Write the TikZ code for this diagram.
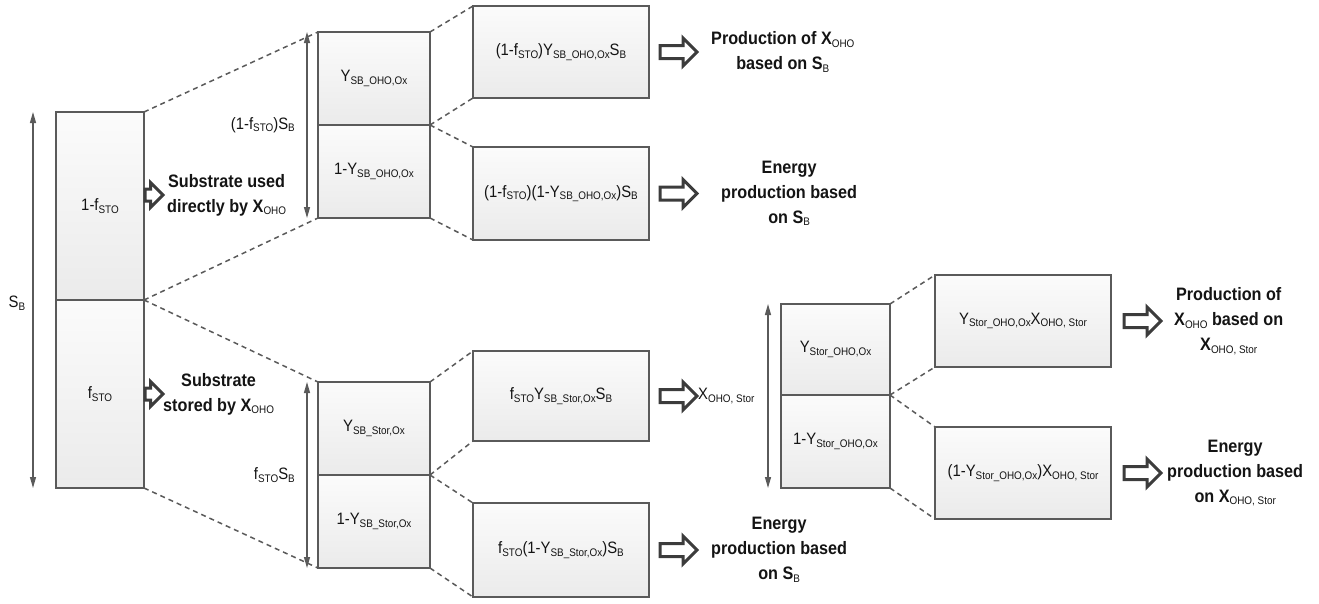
\documentclass[tikz,border=0pt]{standalone}
\usepackage{fontspec}
\setmainfont{Liberation Sans}[FakeStretch=0.9]
\usepackage{tikz}
\usetikzlibrary{positioning}
\usetikzlibrary{shapes.arrows}
\usetikzlibrary{arrows.meta}
\definecolor{boxline}{HTML}{5A5A5A}
\definecolor{arrline}{HTML}{3C3C3C}
\definecolor{textdark}{HTML}{141414}
\newcommand{\lsub}[1]{\raisebox{-2.5pt}{\fontsize{11}{11}\mdseries\selectfont #1}}

\begin{document}
\begin{tikzpicture}[x=1pt,y=-1pt,
  part/.style={draw=boxline, line width=1.5pt, top color=gray!3, bottom color=gray!16,
    minimum width=112pt, minimum height=93pt, inner sep=0pt, outer sep=0pt,
    anchor=north west, text=textdark, font=\fontsize{16.5}{19}\selectfont},
  result/.style={part, minimum width=176pt, minimum height=92pt},
  zoomline/.style={draw=boxline, line width=1.5pt, dash pattern=on 5pt off 4pt},
  extent/.style={draw=boxline, line width=1.2pt,
    {Triangle[length=11pt,width=6pt]}-{Triangle[length=11pt,width=6pt]}},
  hollow/.style={single arrow, draw=arrline, line width=3pt, fill=white,
    minimum height=37pt, inner xsep=0pt, inner ysep=5pt,
    single arrow head extend=7.5pt, outer sep=0pt},
  smallhollow/.style={hollow, minimum height=18pt, inner ysep=4.5pt,
    single arrow head extend=6.5pt},
  outtext/.style={align=center, text=textdark, inner sep=0pt,
    font=\bfseries\fontsize{18}{25}\selectfont},
  lbl/.style={text=textdark, inner sep=0pt, font=\fontsize{16.5}{19}\selectfont}]
  \useasboundingbox
    (0,0)
    rectangle
    (1319,603);

  \node[part, minimum width=88pt, minimum height=188pt] (srca) at (56,112) {1-f\lsub{STO}};
  \node[part, minimum width=88pt, minimum height=188pt, below=0pt of srca] (srcb) {f\lsub{STO}};

  \node[part] (dira) at (318,32) {Y\lsub{SB\_OHO,Ox}};
  \node[part, below=0pt of dira] (dirb) {1-Y\lsub{SB\_OHO,Ox}};
  \node[part] (stoa) at (318,382) {Y\lsub{SB\_Stor,Ox}};
  \node[part, below=0pt of stoa] (stob) {1-Y\lsub{SB\_Stor,Ox}};

  \node[result] (gdir) at (473,6) {(1-f\lsub{STO})Y\lsub{SB\_OHO,Ox}S\lsub{B}};
  \node[result, minimum height=93pt] (edir) at (473,147) {(1-f\lsub{STO})(1-Y\lsub{SB\_OHO,Ox})S\lsub{B}};
  \node[result, minimum height=90pt] (gsto) at (473,351) {f\lsub{STO}Y\lsub{SB\_Stor,Ox}S\lsub{B}};
  \node[result, minimum height=94pt] (esto) at (473,503) {f\lsub{STO}(1-Y\lsub{SB\_Stor,Ox})S\lsub{B}};

  \node[part, minimum width=109pt, minimum height=91pt] (stra) at (781,304) {Y\lsub{Stor\_OHO,Ox}};
  \node[part, minimum width=109pt, minimum height=93pt, below=0pt of stra] (strb) {1-Y\lsub{Stor\_OHO,Ox}};
  \node[result] (gstr) at (935,275) {Y\lsub{Stor\_OHO,Ox}X\lsub{OHO, Stor}};
  \node[result] (estr) at (935,427) {(1-Y\lsub{Stor\_OHO,Ox})X\lsub{OHO, Stor}};

  \draw[zoomline]
    (srca.north east)
    --
    (dira.north west);
  \draw[zoomline]
    (srca.south east)
    --
    (dirb.south west);
  \draw[zoomline]
    (srcb.north east)
    --
    (stoa.north west);
  \draw[zoomline]
    (srcb.south east)
    --
    (stob.south west);

  \draw[zoomline]
    (dira.north east)
    --
    (gdir.north west);
  \draw[zoomline]
    (dira.south east)
    --
    (gdir.south west);
  \draw[zoomline]
    (dirb.north east)
    --
    (edir.north west);
  \draw[zoomline]
    (dirb.south east)
    --
    (edir.south west);

  \draw[zoomline]
    (stoa.north east)
    --
    (gsto.north west);
  \draw[zoomline]
    (stoa.south east)
    --
    (gsto.south west);
  \draw[zoomline]
    (stob.north east)
    --
    (esto.north west);
  \draw[zoomline]
    (stob.south east)
    --
    (esto.south west);

  \draw[zoomline]
    (stra.north east)
    --
    (gstr.north west);
  \draw[zoomline]
    (stra.south east)
    --
    (gstr.south west);
  \draw[zoomline]
    (strb.north east)
    --
    (estr.north west);
  \draw[zoomline]
    (strb.south east)
    --
    (estr.south west);

  \draw[extent]
    ([xshift=-23pt]srca.north west)
    --
    ([xshift=-23pt]srcb.south west);
  \draw[extent]
    ([xshift=-11pt]dira.north west)
    --
    ([xshift=-11pt]dirb.south west);
  \draw[extent]
    ([xshift=-11pt]stoa.north west)
    --
    ([xshift=-11pt]stob.south west);
  \draw[extent]
    ([xshift=-13pt]stra.north west)
    --
    ([xshift=-13pt]strb.south west);

  \node[lbl] (sblbl) at ([xshift=-39pt,yshift=-3pt]srca.south west) {S\lsub{B}};
  \node[lbl, anchor=east] (dirlbl) at ([xshift=-23pt]dira.south west) {(1-f\lsub{STO})S\lsub{B}};
  \node[lbl, anchor=east] (stolbl) at ([xshift=-23pt]stoa.south west) {f\lsub{STO}S\lsub{B}};

  \node[smallhollow, anchor=west] (usearr) at ([xshift=1pt,yshift=11pt]srca.east) {};
  \node[smallhollow, anchor=west] (keeparr) at ([xshift=1pt]srcb.east) {};
  \node[outtext, right=4pt of usearr] (usetxt) {Substrate used\\directly by X\lsub{OHO}};
  \node[outtext, right=0pt of keeparr] (keeptxt) {Substrate\\stored by X\lsub{OHO}};

  \node[hollow, right=11pt of gdir] (gdirarr) {};
  \node[hollow, right=11pt of edir] (edirarr) {};
  \node[hollow, right=11pt of gsto] (gstoarr) {};
  \node[hollow, right=11pt of esto] (estoarr) {};
  \node[hollow, right=13pt of gstr] (gstrarr) {};
  \node[hollow, right=13pt of estr] (estrarr) {};

  \node[outtext, right=14pt of gdirarr] (gdirtxt) {Production of X\lsub{OHO}\\based on S\lsub{B}};
  \node[outtext, right=24pt of edirarr] (edirtxt) {Energy\\production based\\on S\lsub{B}};
  \node[lbl, right=1pt of gstoarr] (gstotxt) {X\lsub{OHO, Stor}};
  \node[outtext, right=14pt of estoarr] (estotxt) {Energy\\production based\\on S\lsub{B}};
  \node[outtext, right=13pt of gstrarr] (gstrtxt) {Production of\\X\lsub{OHO} based on\\X\lsub{OHO, Stor}};
  \node[outtext, right=6pt of estrarr] (estrtxt) {Energy\\production based\\on X\lsub{OHO, Stor}};
\end{tikzpicture}
\end{document}
